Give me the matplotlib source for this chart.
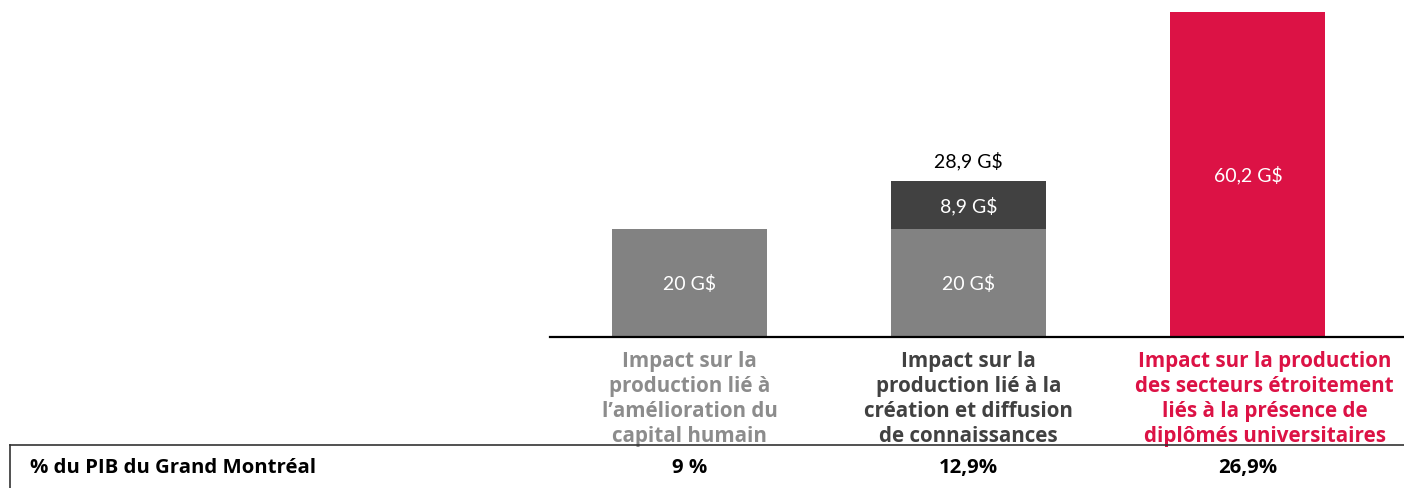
import matplotlib.pyplot as plt
import matplotlib.transforms as mtransforms
from matplotlib.lines import Line2D

plt.rcParams['font.family'] = ['Lato', 'DejaVu Sans']

categories = [
    "Impact sur la\nproduction lié à\nl\u2019amélioration du\ncapital humain",
    "Impact sur la\nproduction lié à la\ncréation et diffusion\nde connaissances",
    "Impact sur la production\ndes secteurs étroitement\nliés à la présence de\ndiplômés universitaires",
]
base_values = [20, 20, 60.2]
top_values = [0, 8.9, 0]
total_labels = [None, "28,9 G$", None]
base_labels = ["20 G$", "20 G$", "60,2 G$"]
top_labels = [None, "8,9 G$", None]
pib_label = "% du PIB du Grand Montréal"
pib_values = ["9 %", "12,9%", "26,9%"]

grey = "#828282"
dark = "#414141"
red = "#DC1245"
base_colors = [grey, grey, red]
label_colors = ["#8c8c8c", dark, red]
bold_font = ["Open Sans", "DejaVu Sans"]

W, H = 1404, 489
fig = plt.figure(figsize=(W / 100, H / 100), dpi=100)
ax = fig.add_axes([550 / W, (H - 338) / H, 1 - 550 / W, 337.5 / H])
x = list(range(len(categories)))

ax.bar(x, base_values, width=0.555, color=base_colors)
ax.bar(x, top_values, width=0.555, bottom=base_values, color=dark)
ax.set_xlim(-0.5, 2.559)
ax.set_ylim(0, 62.5)
ax.axhline(0, color="black", lw=1.6, clip_on=False)
ax.axis("off")

for i in x:
    b = base_values[i]
    ax.text(i, b / 2, base_labels[i], ha="center", va="center",
            color="white", fontsize=14)
    if top_labels[i]:
        ax.text(i, b + top_values[i] / 2, top_labels[i], ha="center", va="center",
                color="white", fontsize=14)
    if total_labels[i]:
        ax.text(i, b + top_values[i] + 2.2, total_labels[i], ha="center",
                va="bottom", color="black", fontsize=14)

# category labels and the PIB row under the chart
trans = mtransforms.blended_transform_factory(ax.transData, fig.transFigure)
label_shift = [0, 0, 0.06]  # last label sits a bit right of its bar
for i in x:
    ax.text(i + label_shift[i], (H - 351) / H, categories[i], transform=trans,
            ha="center", va="top", color=label_colors[i], fontsize=14.9,
            fontweight="bold", family=bold_font, linespacing=1.24)
    ax.text(i, (H - 468) / H, pib_values[i], transform=trans, ha="center", va="center",
            color="black", fontsize=14.7, fontweight="bold", family=bold_font)

fig.text(30 / W, (H - 468) / H, pib_label, ha="left", va="center",
         color="black", fontsize=14.7, fontweight="bold", family=bold_font)
fig.add_artist(Line2D([10 / W, 1], [(H - 446) / H] * 2, transform=fig.transFigure,
                      color="#333333", lw=1.2))
fig.add_artist(Line2D([10 / W] * 2, [(H - 446) / H, 0], transform=fig.transFigure,
                      color="#333333", lw=1.2))

fig.savefig("out.png", dpi=100)
